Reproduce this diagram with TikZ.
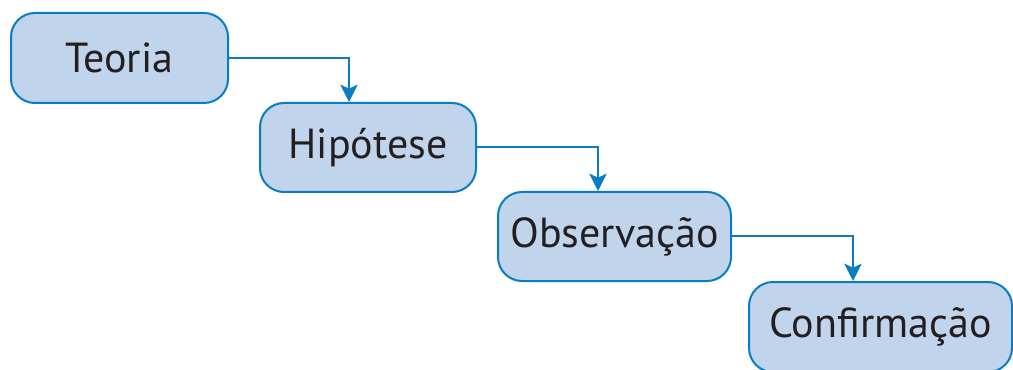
\documentclass[tikz,border=0pt]{standalone}
\usepackage{fontspec}
\setmainfont{PT Sans}
\usetikzlibrary{arrows.meta,calc}
\definecolor{boxfill}{HTML}{C0D5EC}
\definecolor{boxline}{HTML}{0A7CC2}
\definecolor{txt}{HTML}{231F20}
\begin{document}
\begin{tikzpicture}[x=0.75pt,y=-0.75pt,
  stepbox/.style={draw=boxline,fill=boxfill,line width=1.5pt,rounded corners=18pt,
    inner sep=0pt,text=txt,font=\fontsize{31.5}{36}\selectfont},
  conn/.style={draw=boxline,line width=1.5pt,-{Stealth[length=13pt,width=13pt,inset=3pt]}}]
\useasboundingbox (0,0) rectangle (1013,370);
\begin{scope}
\clip (0,0) rectangle (1013,370);
\node[stepbox,minimum width=217*0.75pt,minimum height=90*0.75pt] (teoria) at (119.5,58) {Teoria};
\node[stepbox,minimum width=216*0.75pt,minimum height=89*0.75pt] (hip) at (368,147.5) {Hipótese};
\node[stepbox,minimum width=233*0.75pt,minimum height=89*0.75pt] (obs) at (614.5,236.5) {Observação};
\node[stepbox,minimum width=263*0.75pt,minimum height=90*0.75pt] (conf) at (880.5,327) {Confirmação};
\end{scope}
\draw[conn] (teoria.east) -| ($(hip.north west)+(90,0)$);
\draw[conn] (hip.east) -| ($(obs.north west)+(101,0)$);
\draw[conn] (obs.east) -| ($(conf.north west)+(105,0)$);
\end{tikzpicture}
\end{document}
